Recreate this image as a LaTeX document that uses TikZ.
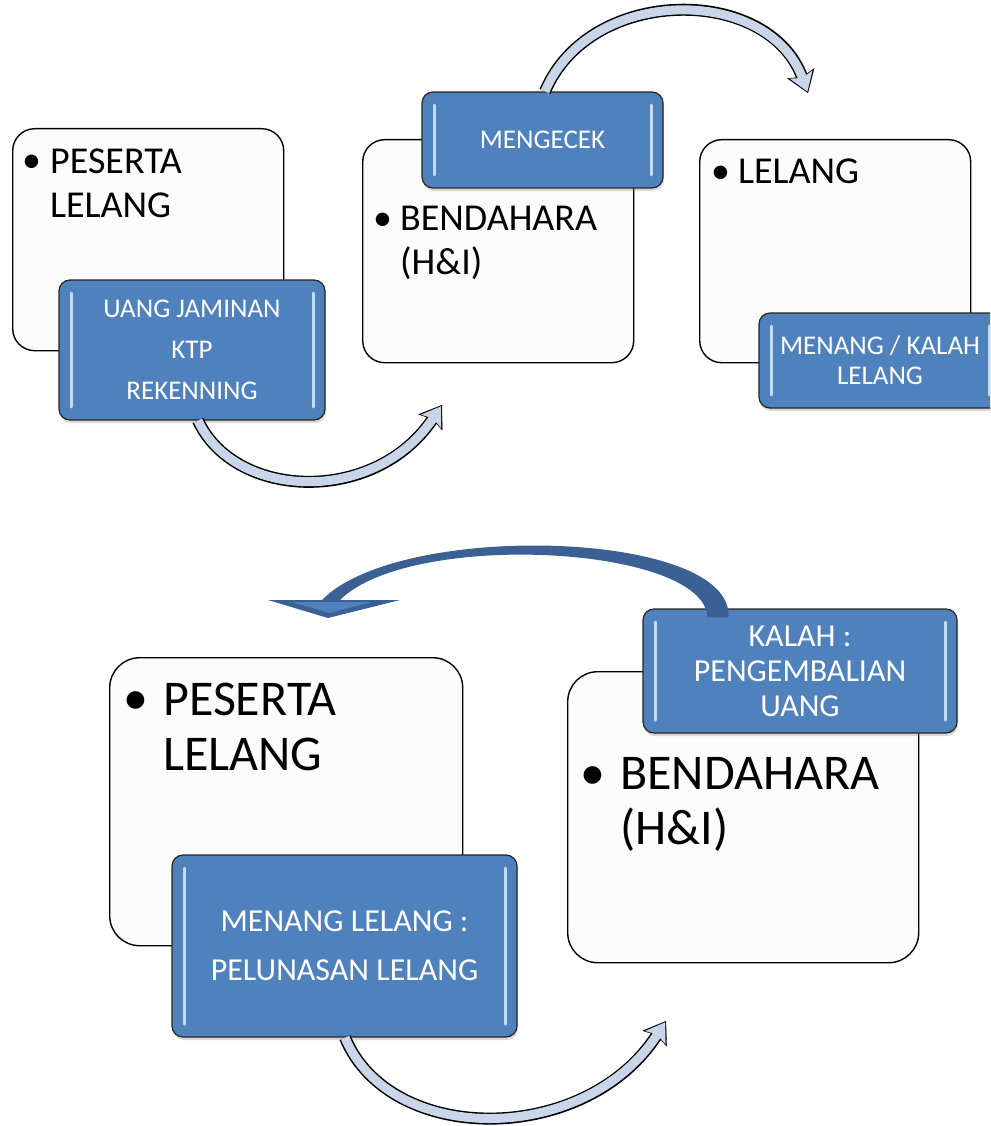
\documentclass[tikz,border=0pt]{standalone}
\usepackage{fontspec}
\setmainfont{Carlito}
\usetikzlibrary{positioning,calc,arrows.meta,shadows}

\definecolor{tagblue}{HTML}{4F81BD}
\definecolor{tagshine}{HTML}{BFDDF7}
\definecolor{palearrow}{HTML}{C9D6EA}
\definecolor{darkarrow}{HTML}{3B6194}
\definecolor{cardfill}{HTML}{FCFCFC}

\newcommand{\cardfont}{\fontsize{38}{44}\selectfont}
\newcommand{\bigcardfont}{\fontsize{50}{55}\selectfont}

\tikzset{
  card/.style={draw=black, line width=1.4pt, fill=cardfill, rounded corners=22pt,
    anchor=north west, inner sep=0pt},
  tag/.style={draw=black!85, line width=1.2pt, fill=tagblue, rounded corners=11pt,
    text=white, align=center, inner sep=0pt,
    drop shadow={shadow xshift=1pt, shadow yshift=-3pt, opacity=0.3},
    path picture={
      \draw[tagshine, line width=3pt, line cap=round]
        ([xshift=12pt, yshift=-13pt]path picture bounding box.north west)
        -- ([xshift=12pt, yshift=13pt]path picture bounding box.south west)
        ([xshift=-12pt, yshift=-13pt]path picture bounding box.north east)
        -- ([xshift=-12pt, yshift=13pt]path picture bounding box.south east);
    }},
  cardtext/.style={anchor=north west, inner sep=0pt, align=left},
  dotmark/.style={anchor=base west, inner sep=0pt},
  pale rim/.style={draw=black, line width=12pt,
    -{Stealth[length=21pt, width=29pt, inset=4pt, line width=0.3pt]}},
  pale core/.style={draw=palearrow, line width=9pt, shorten >=1.6pt,
    -{Stealth[length=18pt, width=24pt, inset=3.5pt, line width=0.3pt]}},
}

\begin{document}
\begin{tikzpicture}[x=1pt,y=-1pt]
  \useasboundingbox (0,0) rectangle (990,1126);
  \clip (0,0) rectangle (990,1126);

  % white cards
  \node[card, minimum width=271pt, minimum height=222pt] (peserta) at (12,128) {};
  \node[card, minimum width=271pt, minimum height=223pt] (bendahara) at (362,139) {};
  \node[card, minimum width=271pt, minimum height=223pt] (lelang) at (699,139) {};
  \node[card, rounded corners=30pt, minimum width=353pt, minimum height=288pt] (pesertaB) at (109,657) {};
  \node[card, rounded corners=30pt, minimum width=351pt, minimum height=291pt] (bendaharaB) at (567,671) {};

  \node[dotmark, font=\cardfont] (dotA) at (22,173) {•};
  \node[cardtext, font=\cardfont] (txtA) at (50,149) {PESERTA\\LELANG};
  \node[dotmark, font=\cardfont] (dotB) at (373,230) {•};
  \node[cardtext, font=\cardfont] (txtB) at (400,206) {BENDAHARA\\(H\&I)};
  \node[dotmark, font=\cardfont] (dotC) at (711,183) {•};
  \node[cardtext, font=\cardfont] (txtC) at (738,159) {LELANG};
  \node[dotmark, font=\bigcardfont] (dotD) at (123,714) {•};
  \node[cardtext, font=\bigcardfont] (txtD) at (163,682.4) {PESERTA\\LELANG};
  \node[dotmark, font=\bigcardfont] (dotE) at (580,789) {•};
  \node[cardtext, font=\bigcardfont] (txtE) at (620,757.4) {BENDAHARA\\(H\&I)};

  % tips of the curved arrows
  \coordinate (tipA) at (442,405);
  \coordinate (tipB) at (808,93);
  \coordinate (tipD) at (666,1021);
  \coordinate (tipE) at (328,618);

  % blue tags
  \node[tag, minimum width=266pt, minimum height=140pt, font=\fontsize{27}{41}\selectfont]
    (uang) at (192,350) {UANG JAMINAN\\KTP\\REKENNING};
  \node[tag, minimum width=241pt, minimum height=96pt, font=\fontsize{27}{30}\selectfont]
    (cek) at (542.5,140) {MENGECEK};
  \node[tag, minimum width=242pt, minimum height=95pt, font=\fontsize{27}{30}\selectfont]
    (hasil) at (880,360.5) {MENANG / KALAH\\LELANG};
  \node[tag, minimum width=345pt, minimum height=182pt, font=\fontsize{32}{49}\selectfont]
    (lunas) at (344.5,946) {MENANG LELANG :\\PELUNASAN LELANG};
  \node[tag, minimum width=314pt, minimum height=124pt, font=\fontsize{32}{35}\selectfont]
    (kembali) at (800,671) {KALAH :\\PENGEMBALIAN\\UANG};

  % pale arrows, leaving from under the tags
  \draw[pale rim] ([xshift=6pt]uang.south) .. controls (235,500) and (375,505) .. (tipA);
  \draw[pale core] ([xshift=6pt]uang.south) .. controls (235,500) and (375,505) .. (tipA);
  \draw[pale rim] ([xshift=2.5pt]cek.north) .. controls (590,-15) and (768,-15) .. (tipB);
  \draw[pale core] ([xshift=2.5pt]cek.north) .. controls (590,-15) and (768,-15) .. (tipB);
  \draw[pale rim] ([xshift=0.5pt]lunas.south) .. controls (390,1146) and (585,1146) .. (tipD);
  \draw[pale core] ([xshift=0.5pt]lunas.south) .. controls (390,1146) and (585,1146) .. (tipD);

  % dark arrow back to the start
  \coordinate (outE) at ([xshift=86pt, yshift=-9pt]kembali.north west);
  \coordinate (inE) at ([xshift=65pt, yshift=-9pt]kembali.north west);
  \fill[darkarrow] (outE) .. controls (735,530) and (400,520) .. (322,600)
    -- (268,600) -- (tipE) -- (400,600) -- (340,600)
    .. controls (410,530) and (705,545) .. (inE) -- cycle;
  \fill[tagblue] (292,602) -- (372,602) -- (329,613) -- cycle;
\end{tikzpicture}
\end{document}
